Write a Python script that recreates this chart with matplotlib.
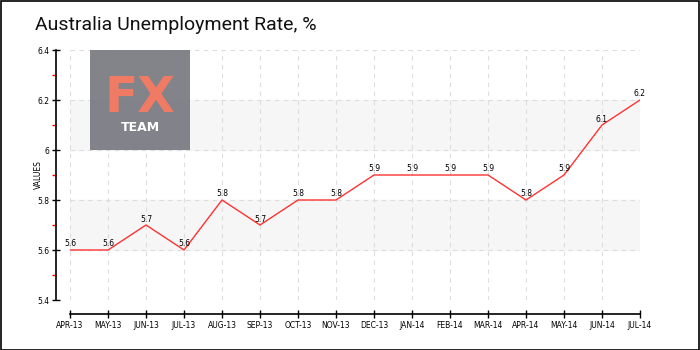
import matplotlib
matplotlib.use("Agg")
import matplotlib.pyplot as plt
from matplotlib.patches import Rectangle
from matplotlib.ticker import FixedLocator

months = ["APR-13", "MAY-13", "JUN-13", "JUL-13", "AUG-13", "SEP-13", "OCT-13", "NOV-13",
          "DEC-13", "JAN-14", "FEB-14", "MAR-14", "APR-14", "MAY-14", "JUN-14", "JUL-14"]
values = [5.6, 5.6, 5.7, 5.6, 5.8, 5.7, 5.8, 5.8, 5.9, 5.9, 5.9, 5.9, 5.8, 5.9, 6.1, 6.2]
yticks = [5.4, 5.6, 5.8, 6.0, 6.2, 6.4]
ytick_labels = ["5.4", "5.6", "5.8", "6", "6.2", "6.4"]
title = "Australia Unemployment Rate, %"

W, H = 700, 350
fig = plt.figure(figsize=(7, 3.5), dpi=100)
fig.patch.set_facecolor("white")
fig.patches.append(Rectangle((0.5 / W, 0.5 / H), 1 - 1.5 / W, 1 - 1.5 / H, transform=fig.transFigure,
                             fill=False, edgecolor="black", linewidth=1.2))

ax = fig.add_axes([70 / W, 1 - 300 / H, 570 / W, 250 / H])
x = list(range(len(months)))

ax.set_xlim(0, len(months) - 1)
ax.set_ylim(5.4, 6.4)

# bands
for lo in (5.6, 6.0):
    ax.axhspan(lo, lo + 0.2, color="#f6f6f6", zorder=0)

ax.grid(True, which="major", color="#dddddd", linestyle=(0, (4, 4)), linewidth=0.8, zorder=1)
ax.set_axisbelow(True)

# logo
ax.add_patch(Rectangle((20 / 570, 0.6), 100 / 570, 0.4, transform=ax.transAxes,
                       facecolor="#7c7c84", edgecolor="none", alpha=0.95, zorder=1.5))
ax.text(70 / 570, 0.81, "FX", transform=ax.transAxes, ha="center", va="center",
        color="#f07b64", fontsize=35, fontweight="bold", family="DejaVu Sans", zorder=1.6)
ax.text(70 / 570, 0.69, "TEAM", transform=ax.transAxes, ha="center", va="center",
        color="white", fontsize=9, fontweight="bold", family="DejaVu Sans", zorder=1.6)

ax.plot(x, values, color="#ff3333", linewidth=1.0, zorder=3)
for xi, v in zip(x, values):
    ax.text(xi, v + 0.006, f"{v:g}", ha="center", va="bottom", fontsize=5.5,
            family="DejaVu Sans", zorder=4)

ax.set_xticks(x)
ax.set_xticklabels(months)
ax.set_yticks(yticks)
ax.set_yticklabels(ytick_labels)
ax.yaxis.set_minor_locator(FixedLocator([5.5, 5.7, 5.9, 6.1, 6.3]))
ax.tick_params(axis="both", which="major", direction="inout", length=6, width=1, colors="black",
               pad=2, labelsize=5.5)
ax.tick_params(axis="y", which="minor", direction="out", length=3, width=1, color="red")

for s in ("top", "right"):
    ax.spines[s].set_visible(False)
ax.spines["left"].set_position(("outward", 10))
ax.spines["bottom"].set_position(("outward", 10))
ax.spines["left"].set_linewidth(1.2)
ax.spines["bottom"].set_linewidth(1.2)
ax.set_facecolor("none")

ax.set_ylabel("VALUES", fontsize=5.5, family="DejaVu Sans", va="center")
ax.yaxis.set_label_coords(-32 / 570, 0.5)

fig.text(35 / W, 1 - 30 / H, title, fontsize=14, family=["Roboto", "DejaVu Sans"], ha="left",
         va="baseline", color="#111111")

fig.savefig("out.png", dpi=100)
